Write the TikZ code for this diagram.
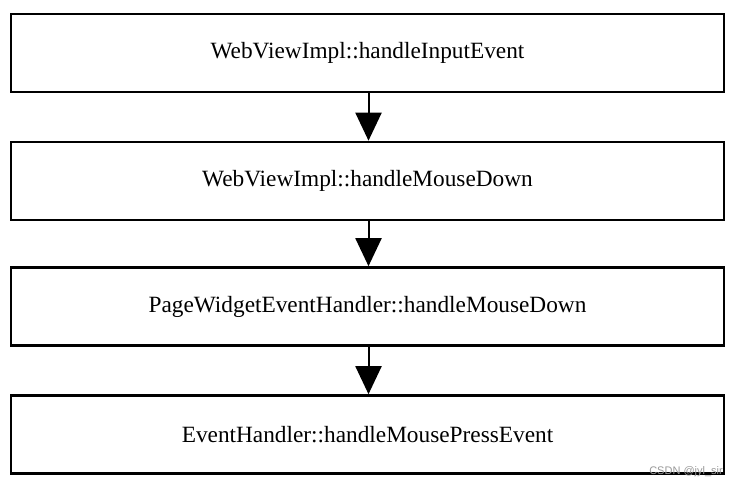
\documentclass[tikz,border=0pt]{standalone}
\usepackage{fontspec}
\setmainfont{Liberation Serif}
\newfontfamily\wmfont{Liberation Sans}
\usetikzlibrary{arrows.meta}
\begin{document}
\begin{tikzpicture}[x=1pt,y=-1pt,
  fbox/.style={draw=black, line width=2.6pt, minimum width=713pt, minimum height=78pt,
    inner sep=0pt, font=\fontsize{23.3}{27}\selectfont, fill=white},
  flow/.style={draw=black, line width=2pt, -{Triangle[width=26pt,length=28pt]}}]
\useasboundingbox (0,0) rectangle (736,489);
\node[fbox] (b1) at (367.5,53) {WebViewImpl::handleInputEvent};
\node[fbox] (b2) at (367.5,181) {WebViewImpl::handleMouseDown};
\node[fbox] (b3) at (367.5,306.5) {PageWidgetEventHandler::handleMouseDown};
\node[fbox] (b4) at (367.5,434.5) {EventHandler::handleMousePressEvent};
\draw[flow] ([xshift=1pt]b1.south) -- ([xshift=1pt]b2.north);
\draw[flow] ([xshift=1pt]b2.south) -- ([xshift=1pt]b3.north);
\draw[flow] ([xshift=1pt]b3.south) -- ([xshift=1pt]b4.north);
\node[anchor=south east, inner sep=0pt, text=black!40, font=\wmfont\fontsize{11}{12}\selectfont] (wm) at (723,477) {CSDN @jyl\_sir};
\end{tikzpicture}
\end{document}
